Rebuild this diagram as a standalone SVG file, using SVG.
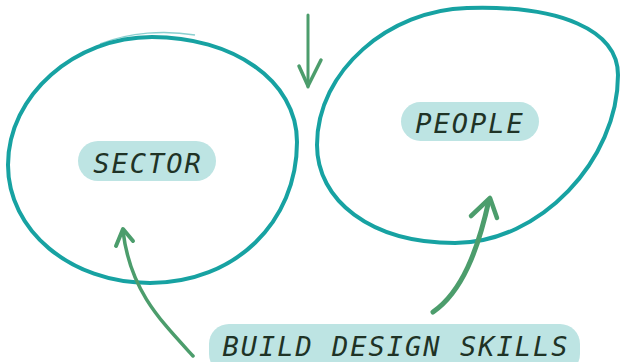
<svg xmlns="http://www.w3.org/2000/svg" width="620" height="362" viewBox="0 0 620 362">
<style>
.ring{fill:none;stroke:#17a2a2;stroke-width:4;stroke-linecap:round;stroke-linejoin:round}
.ring2{fill:none;stroke:#17a2a2;stroke-width:1.5;opacity:0.5}
.arr{fill:none;stroke:#4c9d6c;stroke-linecap:round;stroke-linejoin:round}
.pill{fill:#bde4e3}
.lbl{font-family:"DejaVu Sans Mono","Liberation Mono",monospace;font-style:italic;font-size:27px;letter-spacing:2px;fill:#1f3326;text-anchor:middle}
</style>
<rect width="620" height="362" fill="#ffffff"/>
<g id="sector">
<path class="ring" d="M152 37 C232 37 297 80 297 142 C297 222 235 283 150 283 C70 283 8 230 8 165 C8 95 75 37 152 37 Z"/>
<path class="ring2" d="M100 44 C130 32 165 30 195 35"/>
<rect class="pill" x="78" y="141" width="138" height="40" rx="20"/>
<text class="lbl" x="148" y="173">SECTOR</text>
</g>
<g id="people">
<path class="ring" d="M467 8 C560 5 618 30 618 75 C618 160 540 243 455 243 C370 243 317 200 317 145 C317 70 390 10 467 8 Z"/>
<rect class="pill" x="401" y="102" width="138" height="39" rx="19.5"/>
<text class="lbl" x="470" y="133">PEOPLE</text>
</g>
<g id="skills">
<rect class="pill" x="209" y="324" width="371" height="50" rx="20"/>
<text class="lbl" x="396" y="356">BUILD DESIGN SKILLS</text>
</g>
<g id="connectors">
<path class="arr" stroke-width="3" d="M308 15 L308 87"/>
<path class="arr" stroke-width="3.5" d="M299 66 L308 86 L321 60"/>
<path class="arr" stroke-width="3.5" d="M193 356 C160 320 130 290 123 231"/>
<path class="arr" stroke-width="4" d="M116 246 L123 229 L133 241"/>
<path class="arr" stroke-width="5" d="M433 312 C462 292 478 250 489 200"/>
<path class="arr" stroke-width="4.5" d="M471 216 L490 198 L497 218"/>
</g>
</svg>
